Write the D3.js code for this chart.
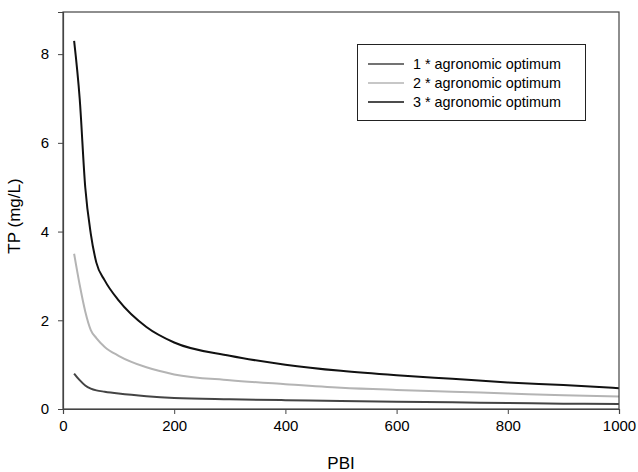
<!DOCTYPE html>
<html><head><meta charset="utf-8">
<script src="https://cdn.jsdelivr.net/npm/d3@7/dist/d3.min.js"></script>
<style>body{margin:0;background:#fff}svg{display:block}text{font-family:"Liberation Sans",Arial,sans-serif}</style>
</head><body><svg id="c" width="638" height="472"></svg>
<script>
const pbi = [20,30,40,50,60,75,100,150,200,300,400,500,600,700,800,900,1000];
const tp1 = [0.8,0.65,0.53,0.46,0.42,0.39,0.35,0.29,0.25,0.22,0.2,0.18,0.165,0.15,0.135,0.12,0.11];
const tp2 = [3.5,2.8,2.2,1.78,1.6,1.4,1.2,0.94,0.78,0.65,0.56,0.48,0.43,0.39,0.35,0.31,0.28];
const tp3 = [8.3,7.0,5.0,3.95,3.3,2.9,2.45,1.85,1.5,1.2,1.0,0.86,0.76,0.68,0.6,0.54,0.47];
const seriesNames = ["1 * agronomic optimum","2 * agronomic optimum","3 * agronomic optimum"];
const xTicks = [0,200,400,600,800,1000];
const yTicks = [0,2,4,6,8];

const svg = d3.select("#c");
const L=63, R=619, T=12, B=409;
const x = d3.scaleLinear().domain([0,1000]).range([L,R]);
const y = d3.scaleLinear().domain([0,8.95]).range([B,T]);

const series = [
  {name:seriesNames[0], vals:tp1, color:"#444444"},
  {name:seriesNames[1], vals:tp2, color:"#b4b4b4"},
  {name:seriesNames[2], vals:tp3, color:"#111111"}
];
const line = d3.line().curve(d3.curveMonotoneX).x(d=>x(d[0])).y(d=>y(d[1]));
series.forEach(s=>{
  svg.append("path").datum(pbi.map((p,i)=>[p,s.vals[i]]))
    .attr("d",line).attr("fill","none").attr("stroke",s.color).attr("stroke-width",2);
});

svg.append("rect").attr("x",L).attr("y",T).attr("width",R-L).attr("height",B-T)
  .attr("fill","none").attr("stroke","#444").attr("stroke-width",1.2);

const xa = svg.append("g").attr("transform",`translate(0,${B})`)
  .call(d3.axisBottom(x).tickValues(xTicks).tickSize(5).tickPadding(6).tickFormat(d3.format("d")));
const ya = svg.append("g").attr("transform",`translate(${L},0)`)
  .call(d3.axisLeft(y).tickValues(yTicks).tickSize(5).tickPadding(9).tickFormat(d3.format("d")));
[xa,ya].forEach(a=>{
  a.select(".domain").attr("stroke","#444").attr("stroke-width",1.2);
  a.selectAll(".tick line").attr("stroke","#444");
  a.selectAll("text").attr("font-size",15).attr("fill","#000").style("font-family","Liberation Sans, Arial, sans-serif");
});

svg.append("text").attr("x",341).attr("y",469).attr("text-anchor","middle")
  .attr("font-size",17).text("PBI");
svg.append("text").attr("transform",`translate(20,216) rotate(-90)`).attr("text-anchor","middle")
  .attr("font-size",17).text("TP (mg/L)");

const lg = svg.append("g");
lg.append("rect").attr("x",357.5).attr("y",44.5).attr("width",228).attr("height",76)
  .attr("fill","#fff").attr("stroke","#222").attr("stroke-width",1);
series.forEach((s,i)=>{
  const yy = 64 + i*19;
  lg.append("line").attr("x1",368).attr("x2",404).attr("y1",yy).attr("y2",yy)
    .attr("stroke",s.color).attr("stroke-width",1.5);
  lg.append("text").attr("x",413).attr("y",yy+5).attr("font-size",14.4).text(s.name);
});
</script></body></html>
